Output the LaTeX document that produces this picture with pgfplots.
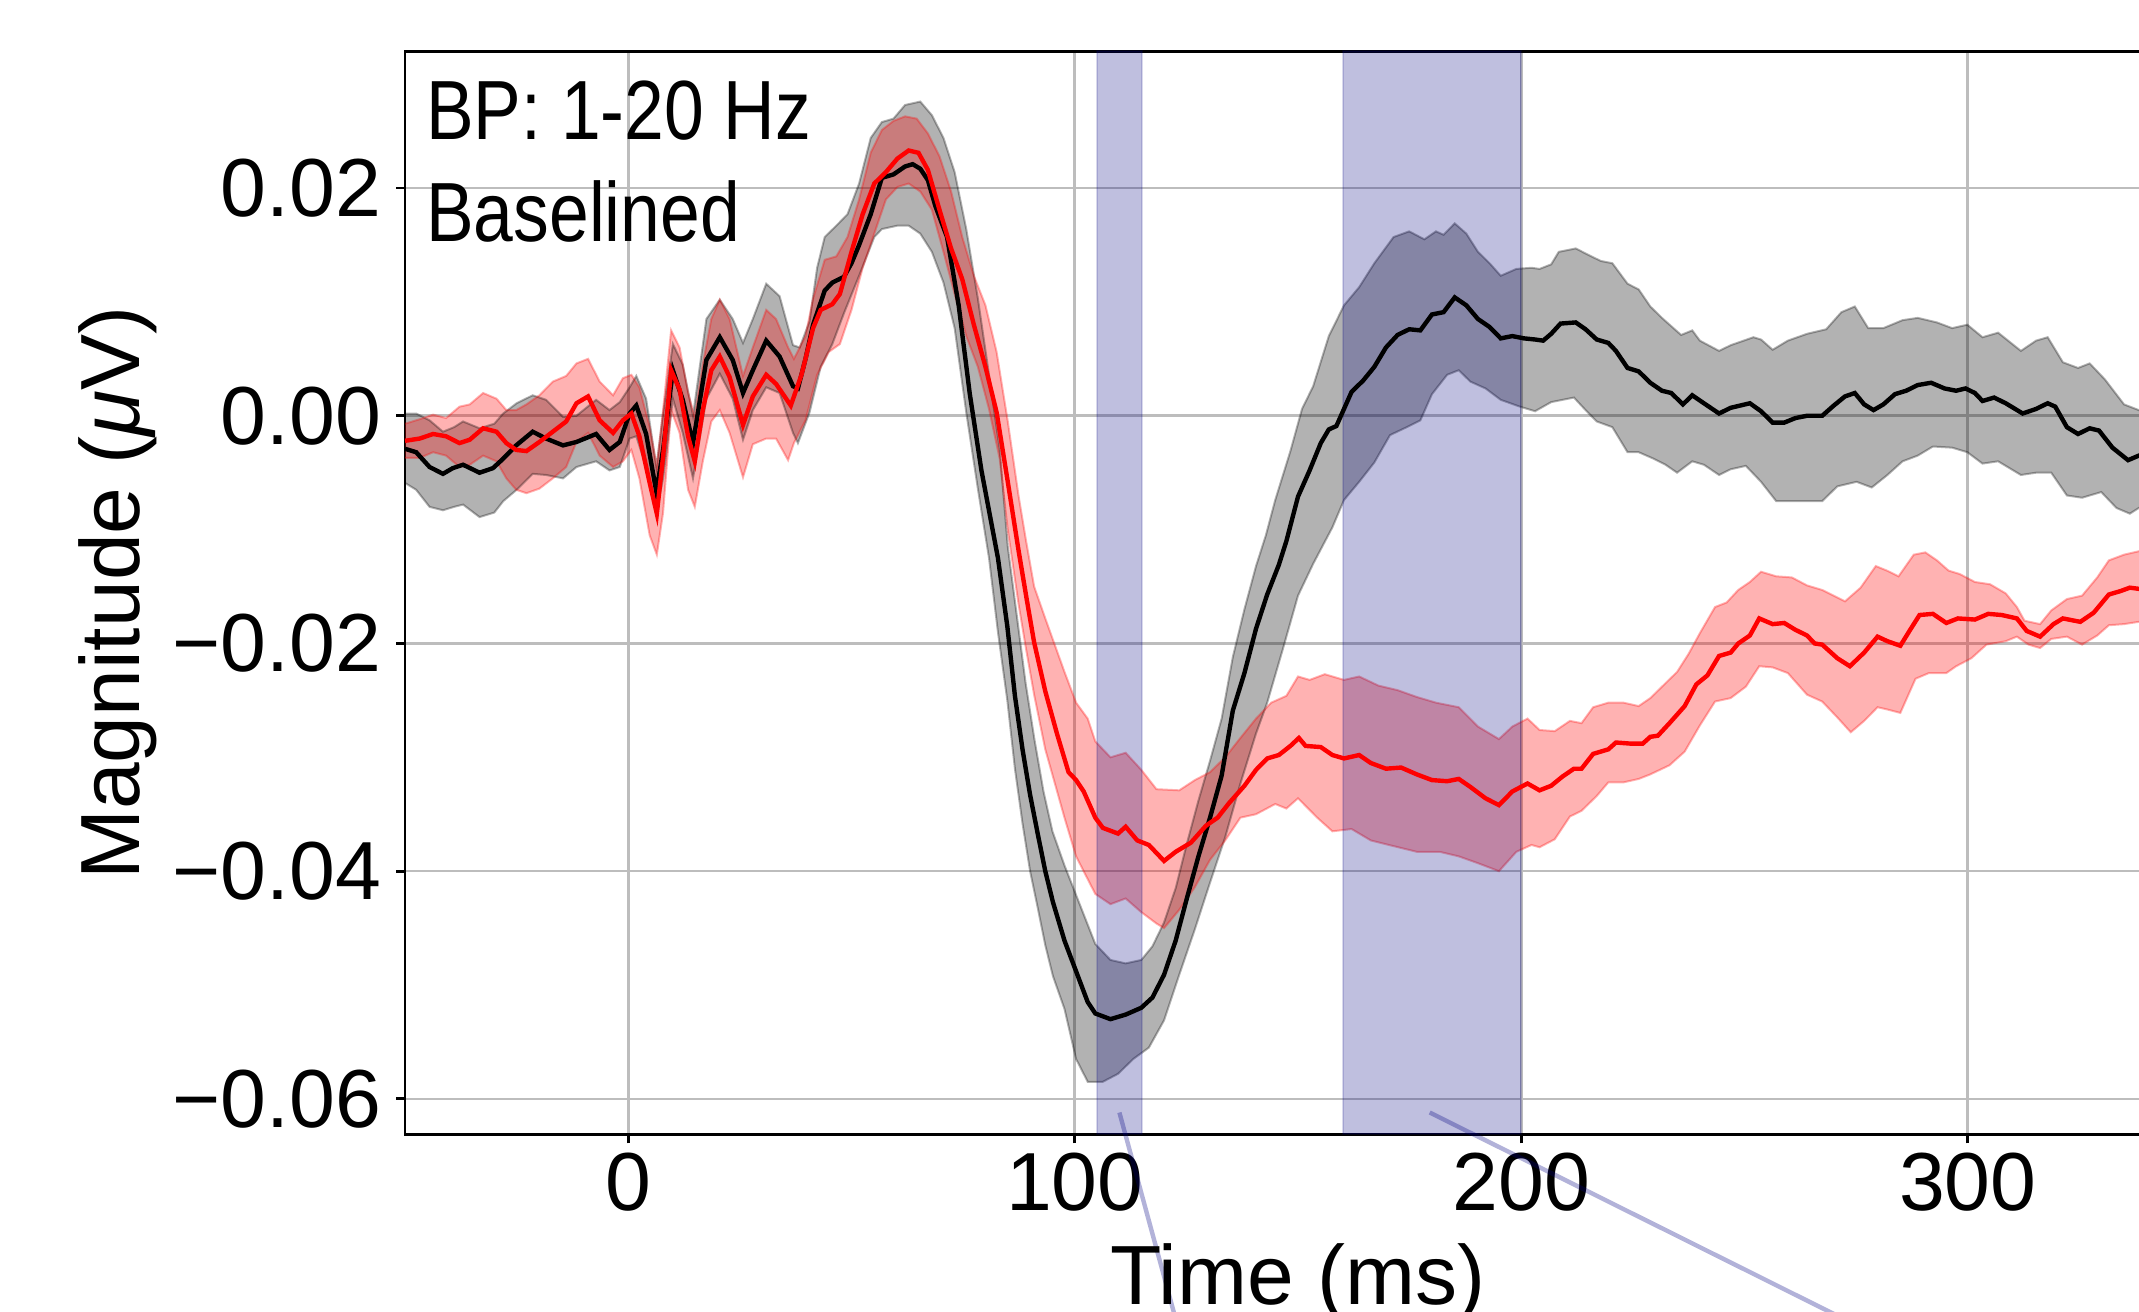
\documentclass[border=0pt]{standalone}
\usepackage{fontspec}
\setmainfont{Liberation Sans}
\newfontfamily\condfont[FakeStretch=0.85]{Liberation Sans}
\usepackage{pgfplots}
\pgfplotsset{compat=1.18}
\usepgfplotslibrary{fillbetween}
\definecolor{gridgray}{HTML}{BDBDBD}
\definecolor{spanblue}{RGB}{0,0,128}
\begin{document}
\begin{tikzpicture}
\begin{axis}[
 at={(0pt,0pt)}, anchor=south west,
 scale only axis, width=446.5pt, height=270.75pt,
 xmin=-50, xmax=350, ymin=-0.06313, ymax=0.0320,
 scaled y ticks=false, scaled x ticks=false,
 xtick={0,100,200,300}, xticklabels={0,100,200,300},
 ytick={-0.06,-0.04,-0.02,0,0.02},
 yticklabels={−0.06,−0.04,−0.02,0.00,0.02},
 tick pos=left, tick align=outside, major tick length=2.25pt,
 tick style={black, line width=0.7pt},
 axis line style={line width=0.7pt},
 grid=major, major grid style={gridgray, line width=0.65pt},
 tick label style={font=\fontsize{20.6}{24}\selectfont, inner sep=0pt},
 yticklabel shift=3.5pt, xticklabel shift=2.15pt,
 label style={font=\fontsize{21}{25}\selectfont, inner sep=0pt},
 xlabel={Time (ms)},
 ylabel={Magnitude ({\itshape μ}V)},
 xlabel style={at={(axis description cs:0.5,0)}, anchor=north, yshift=-27.1pt},
 ylabel style={at={(axis description cs:-0.1831,0.5)}, anchor=north},
 clip=false, no markers,
]
% ---------- black (condition 1) band ----------
\addplot[name path=gu, draw=black, draw opacity=0.3, line width=0.5pt] coordinates {
(-50,0.0002) (-47.5,0.0002) (-44.5,-0.0004) (-41.5,-0.0014) (-39,-0.0010) (-37,-0.0005) (-33.3,-0.0011) (-30,-0.0007) (-28,0.0002) (-25,0.0011) (-21.4,0.0018) (-18.4,0.0014) (-14.6,-0.0001) (-11.6,0.0000) (-7.2,0.0014) (-4.2,0.0005) (-1.9,0.0012) (0.3,0.0025) (1.8,0.0035) (4.0,0.0015) (6.3,-0.0045) (7.8,0.0002) (10,0.0063) (12.2,0.0045) (14.5,0.0000) (17.5,0.0085) (20.5,0.0102) (23.4,0.0085) (25.7,0.0064) (27.9,0.0085) (30.9,0.0116) (33.9,0.0105) (36.9,0.0062) (38.4,0.0060) (40.6,0.0083) (42.3,0.0130) (44.0,0.0157) (46.6,0.0167) (49.1,0.0177) (51.7,0.0204) (54.3,0.0244) (56.8,0.0258) (59.4,0.0261) (62.0,0.0273) (65.4,0.0276) (68.0,0.0264) (70.6,0.0244) (73.1,0.0214) (75.7,0.0164) (78.3,0.0103) (80.8,0.0036) (83.2,-0.0030) (85,-0.0115) (87,-0.0175) (89,-0.0235) (91,-0.0285) (93,-0.0330) (95,-0.0365) (97.7,-0.0395) (100.3,-0.0421) (104.6,-0.0464) (108.0,-0.0478) (111.4,-0.0481) (114.9,-0.0478) (117.4,-0.0466) (120.0,-0.0445) (122.6,-0.0415) (125.1,-0.0376) (127.7,-0.0338) (130.3,-0.0303) (132.9,-0.0266) (135.4,-0.0212) (138.0,-0.0170) (140.6,-0.0132) (142.8,-0.0105) (144.9,-0.0074) (148.3,-0.0031) (150.9,0.0006) (153.4,0.0026) (156.9,0.0070) (160.3,0.0097) (163.7,0.0113) (167.1,0.0134) (171.4,0.0157) (174.9,0.0162) (178.3,0.0155) (180.9,0.0162) (182.6,0.0159) (185.1,0.0169) (187.7,0.0160) (190.3,0.0144) (192.9,0.0134) (195.4,0.0123) (198.9,0.0129) (202.3,0.0130) (204.1,0.0129) (206.7,0.0133) (208.4,0.0144) (212.2,0.0147) (215.2,0.0141) (217.8,0.0136) (220.4,0.0134) (223.8,0.0116) (226.3,0.0111) (228.9,0.0096) (231.5,0.0086) (235.8,0.0071) (238.3,0.0075) (240.0,0.0066) (244.3,0.0057) (246.9,0.0062) (252.0,0.0069) (253.7,0.0067) (256.3,0.0058) (259.7,0.0066) (264.0,0.0072) (268.3,0.0076) (271.7,0.0091) (274.7,0.0096) (277.7,0.0077) (281.1,0.0077) (285.4,0.0084) (288.8,0.0086) (293.1,0.0082) (296.5,0.0077) (299.9,0.0080) (303.3,0.0069) (306.8,0.0073) (311.9,0.0057) (315.3,0.0066) (317.9,0.0069) (321.3,0.0047) (324.7,0.0042) (327.3,0.0046) (330.7,0.0032) (335.0,0.0010) (338.3,0.0005) (341,0.0000)};
\addplot[name path=gl, draw=black, draw opacity=0.3, line width=0.5pt] coordinates {
(-50,-0.0059) (-47.5,-0.0065) (-44.5,-0.0080) (-41.5,-0.0083) (-39,-0.0080) (-37,-0.0078) (-33.3,-0.0089) (-30,-0.0085) (-28,-0.0075) (-25,-0.0065) (-21.4,-0.0051) (-18.4,-0.0052) (-14.6,-0.0055) (-11.6,-0.0045) (-7.2,-0.0040) (-4.2,-0.0048) (-1.9,-0.0045) (0.3,-0.0020) (1.8,-0.0018) (4.0,-0.0045) (6.3,-0.0085) (7.8,-0.0055) (10,0.0015) (12.2,-0.0015) (14.5,-0.0055) (17.5,0.0015) (20.5,0.0037) (23.4,0.0015) (25.7,-0.0021) (27.9,0.0005) (30.9,0.0025) (33.9,0.0020) (36.9,-0.0015) (38.0,-0.0024) (40.6,0.0003) (43.1,0.0043) (45.7,0.0063) (48.3,0.0090) (51.7,0.0123) (55.1,0.0157) (56.8,0.0164) (60.3,0.0167) (62.8,0.0167) (65.4,0.0160) (68.0,0.0144) (70.6,0.0117) (73.1,0.0077) (75.7,0.0003) (78.3,-0.0064) (80.8,-0.0125) (82.8,-0.0190) (84.9,-0.0250) (86.6,-0.0310) (88.3,-0.0358) (90.0,-0.0400) (91.7,-0.0432) (93.4,-0.0465) (95.1,-0.0492) (97.7,-0.0521) (100.3,-0.0565) (102.9,-0.0585) (106.3,-0.0585) (109.7,-0.0578) (113.1,-0.0565) (116.6,-0.0555) (120.0,-0.0531) (123.4,-0.0491) (126.9,-0.0451) (130.3,-0.0410) (133.7,-0.0370) (137.1,-0.0323) (140.6,-0.0279) (143.1,-0.0252) (146.6,-0.0205) (150.0,-0.0158) (153.4,-0.0130) (157.7,-0.0098) (160.3,-0.0074) (163.7,-0.0058) (167.1,-0.0041) (170.6,-0.0017) (174.9,-0.0009) (177.4,-0.0004) (180.0,0.0019) (183.4,0.0036) (186.0,0.0040) (188.6,0.0030) (192.0,0.0024) (195.4,0.0014) (199.7,0.0008) (203.1,0.0004) (206.7,0.0012) (211.8,0.0016) (214.4,0.0005) (216.9,-0.0005) (220.4,-0.0010) (223.8,-0.0032) (226.3,-0.0032) (229.8,-0.0038) (232.3,-0.0043) (234.9,-0.0050) (238.3,-0.0040) (240.9,-0.0043) (244.3,-0.0052) (246.9,-0.0047) (250.3,-0.0044) (253.7,-0.0058) (257.1,-0.0075) (260.6,-0.0075) (264.0,-0.0075) (267.4,-0.0075) (270.8,-0.0062) (275.1,-0.0058) (278.5,-0.0063) (282.0,-0.0052) (285.4,-0.0040) (288.8,-0.0035) (292.2,-0.0027) (296.5,-0.0028) (299.9,-0.0032) (303.3,-0.0042) (306.8,-0.0040) (311.9,-0.0052) (315.3,-0.0050) (318.7,-0.0050) (322.2,-0.0070) (325.6,-0.0072) (329.9,-0.0067) (333.3,-0.0081) (336.3,-0.0086) (338.3,-0.0081) (341,-0.0085)};
\addplot[fill=black, fill opacity=0.3, draw=none] fill between[of=gu and gl];
% ---------- red (condition 2) band ----------
\addplot[name path=ru, draw=red, draw opacity=0.3, line width=0.5pt] coordinates {
(-50,-0.0007) (-46.7,-0.0003) (-43.7,0.0001) (-40.8,-0.0002) (-37.8,0.0008) (-35.5,0.0010) (-32.5,0.0020) (-29.5,0.0015) (-27.3,0.0005) (-25.1,0.0005) (-22.8,0.0010) (-19.9,0.0018) (-16.9,0.0030) (-13.9,0.0035) (-11.6,0.0046) (-9.0,0.0050) (-6.4,0.0030) (-3.4,0.0018) (-1.2,0.0033) (0.7,0.0036) (2.5,0.0025) (4.8,-0.0010) (6.4,-0.0045) (7.8,0.0005) (9.6,0.0075) (11.5,0.0060) (13.4,0.0020) (14.9,-0.0001) (16.7,0.0045) (18.6,0.0085) (20.5,0.0102) (22.7,0.0085) (25.7,0.0035) (27.9,0.0060) (30.9,0.0093) (33.1,0.0085) (35.8,0.0060) (37.1,0.0050) (39.7,0.0070) (41.4,0.0103) (44.0,0.0137) (46.6,0.0140) (49.1,0.0157) (51.7,0.0190) (54.3,0.0231) (56.8,0.0251) (59.4,0.0259) (62.0,0.0263) (64.6,0.0261) (67.1,0.0248) (69.7,0.0228) (72.3,0.0197) (74.8,0.0157) (77.4,0.0123) (80.0,0.0097) (82.5,0.0056) (85,-0.0005) (87.4,-0.0070) (89.1,-0.0110) (90.9,-0.0150) (93.4,-0.0178) (97.7,-0.0225) (100.3,-0.0252) (102.9,-0.0266) (104.6,-0.0286) (108.0,-0.0300) (111.4,-0.0296) (114.9,-0.0311) (118.3,-0.0328) (123.4,-0.0329) (126.9,-0.0320) (130.3,-0.0313) (133.7,-0.0300) (137.1,-0.0283) (140.6,-0.0266) (144.0,-0.0252) (147.4,-0.0246) (150.0,-0.0229) (152.6,-0.0232) (156.0,-0.0227) (160.3,-0.0232) (163.7,-0.0229) (168.0,-0.0237) (172.3,-0.0241) (176.6,-0.0247) (180.9,-0.0252) (186.0,-0.0256) (190.3,-0.0273) (195.0,-0.0284) (198.0,-0.0273) (201.4,-0.0266) (204.1,-0.0276) (207.5,-0.0277) (210.9,-0.0268) (213.5,-0.0270) (216.1,-0.0256) (219.5,-0.0252) (222.9,-0.0252) (226.3,-0.0255) (228.9,-0.0248) (231.5,-0.0238) (234.9,-0.0225) (237.5,-0.0209) (240.0,-0.0191) (243.4,-0.0168) (246.0,-0.0164) (248.6,-0.0153) (251.2,-0.0146) (253.7,-0.0137) (257.1,-0.0141) (260.6,-0.0142) (264.0,-0.0149) (267.4,-0.0153) (272.5,-0.0163) (276.0,-0.0151) (279.4,-0.0132) (281.9,-0.0136) (284.5,-0.0141) (287.9,-0.0122) (290.5,-0.0120) (293.1,-0.0127) (295.7,-0.0136) (298.2,-0.0139) (301.6,-0.0146) (305.0,-0.0148) (308.5,-0.0156) (311.0,-0.0168) (312.7,-0.0180) (316.2,-0.0183) (318.7,-0.0171) (322.2,-0.0161) (325.6,-0.0158) (329.0,-0.0142) (331.6,-0.0127) (335.0,-0.0122) (338.3,-0.0119) (341,-0.0117)};
\addplot[name path=rl, draw=red, draw opacity=0.3, line width=0.5pt] coordinates {
(-50,-0.0037) (-46.7,-0.0037) (-43.7,-0.0032) (-40.8,-0.0035) (-37.8,-0.0045) (-35.5,-0.0043) (-32.5,-0.0035) (-29.5,-0.0040) (-27.3,-0.0055) (-25.1,-0.0065) (-22.8,-0.0068) (-19.9,-0.0064) (-16.9,-0.0055) (-13.9,-0.0045) (-11.6,-0.0023) (-9.0,-0.0015) (-6.4,-0.0035) (-3.4,-0.0045) (-1.2,-0.0040) (0.7,-0.0030) (2.5,-0.0055) (4.8,-0.0105) (6.4,-0.0122) (7.8,-0.0085) (9.6,0.0005) (11.5,-0.0015) (13.4,-0.0065) (14.9,-0.0080) (16.7,-0.0040) (18.6,-0.0005) (20.5,0.0005) (22.7,-0.0015) (25.7,-0.0054) (27.9,-0.0025) (30.9,-0.0020) (33.1,-0.0020) (35.8,-0.0039) (37.1,-0.0024) (39.7,-0.0004) (42.3,0.0036) (44.9,0.0056) (47.4,0.0063) (50.0,0.0093) (52.5,0.0130) (55.1,0.0160) (57.7,0.0190) (60.3,0.0201) (62.8,0.0204) (65.4,0.0197) (68.0,0.0181) (70.6,0.0144) (73.1,0.0107) (75.7,0.0070) (78.3,0.0043) (80.8,0.0006) (83.2,-0.0038) (85,-0.0100) (87.4,-0.0165) (89.1,-0.0205) (90.9,-0.0245) (93.4,-0.0293) (97.7,-0.0353) (100.3,-0.0387) (102.9,-0.0407) (104.6,-0.0420) (108.0,-0.0429) (111.4,-0.0424) (114.9,-0.0436) (118.3,-0.0446) (120.0,-0.0450) (123.4,-0.0434) (126.9,-0.0414) (130.3,-0.0390) (133.7,-0.0373) (137.1,-0.0353) (140.6,-0.0350) (144.9,-0.0341) (147.4,-0.0345) (150.0,-0.0336) (154.3,-0.0353) (157.7,-0.0365) (162.0,-0.0363) (166.3,-0.0373) (171.4,-0.0378) (176.6,-0.0383) (181.7,-0.0383) (186.0,-0.0387) (190.3,-0.0393) (195.0,-0.0400) (198.9,-0.0383) (202.3,-0.0377) (204.1,-0.0379) (207.5,-0.0372) (210.9,-0.0352) (213.5,-0.0347) (216.9,-0.0334) (219.5,-0.0322) (222.9,-0.0322) (226.3,-0.0319) (228.9,-0.0315) (233.2,-0.0307) (236.6,-0.0295) (240.0,-0.0272) (243.4,-0.0251) (246.9,-0.0248) (250.3,-0.0238) (253.3,-0.0220) (256.3,-0.0221) (259.7,-0.0226) (264.0,-0.0245) (267.4,-0.0251) (270.8,-0.0265) (273.8,-0.0278) (276.8,-0.0268) (279.8,-0.0256) (282.0,-0.0258) (284.9,-0.0261) (288.3,-0.0231) (291.3,-0.0226) (295.2,-0.0226) (297.4,-0.0220) (300.8,-0.0213) (304.2,-0.0201) (308.5,-0.0198) (311.0,-0.0194) (313.6,-0.0201) (316.2,-0.0204) (318.7,-0.0196) (322.2,-0.0194) (325.6,-0.0201) (329.0,-0.0193) (331.6,-0.0184) (335.0,-0.0183) (338.3,-0.0181) (341,-0.0180)};
\addplot[fill=red, fill opacity=0.3, draw=none] fill between[of=ru and rl];
% ---------- highlighted windows ----------
\addplot[draw=spanblue, draw opacity=0.15, fill=spanblue, fill opacity=0.25, line width=0.5pt] coordinates {(105,-0.06313) (115,-0.06313) (115,0.0320) (105,0.0320)} -- cycle;
\addplot[draw=spanblue, draw opacity=0.15, fill=spanblue, fill opacity=0.25, line width=0.5pt] coordinates {(160,-0.06313) (200,-0.06313) (200,0.0320) (160,0.0320)} -- cycle;
% ---------- connector lines ----------
\addplot[spanblue, opacity=0.3, line width=1.1pt] coordinates {(110,-0.0612) (127.5,-0.0864)};
\addplot[spanblue, opacity=0.3, line width=1.1pt] coordinates {(179.5,-0.0612) (308.4,-0.0864)};
% ---------- black mean ----------
\addplot[black, line width=1.1pt] coordinates {
(-50,-0.0029) (-47.5,-0.0032) (-44.5,-0.0045) (-41.5,-0.0051) (-39.3,-0.0046) (-37,-0.0043) (-33.3,-0.0050) (-30.3,-0.0046) (-28.1,-0.0038) (-25.1,-0.0026) (-21.4,-0.0014) (-18.4,-0.0020) (-14.6,-0.0026) (-11.6,-0.0023) (-7.2,-0.0016) (-4.2,-0.0030) (-1.9,-0.0023) (0.3,0.0002) (1.8,0.0009) (4.0,-0.0016) (6.3,-0.0067) (7.8,-0.0030) (10,0.0040) (12.2,0.0014) (14.5,-0.0024) (17.5,0.0049) (20.5,0.0069) (23.4,0.0049) (25.7,0.0020) (27.9,0.0040) (30.9,0.0066) (33.9,0.0052) (36.9,0.0026) (38.0,0.0024) (39.7,0.0050) (41.4,0.0080) (44.0,0.0110) (45.7,0.0117) (48.3,0.0122) (50.0,0.0134) (51.7,0.0150) (54.3,0.0177) (56.8,0.0209) (59.4,0.0212) (62.0,0.0219) (63.7,0.0221) (65.4,0.0217) (67.1,0.0207) (68.8,0.0184) (71.4,0.0157) (74.0,0.0097) (76.5,0.0019) (79.1,-0.0048) (82.8,-0.0125) (84.9,-0.0185) (86.6,-0.0246) (88.3,-0.0293) (90.0,-0.0333) (91.7,-0.0367) (93.4,-0.0400) (95.1,-0.0427) (97.7,-0.0461) (100.3,-0.0488) (102.9,-0.0515) (104.6,-0.0525) (108.0,-0.0530) (111.4,-0.0526) (114.9,-0.0520) (117.4,-0.0511) (120.0,-0.0491) (122.6,-0.0461) (125.1,-0.0424) (127.7,-0.0387) (130.3,-0.0353) (132.9,-0.0316) (135.4,-0.0259) (138.0,-0.0226) (140.6,-0.0187) (143.1,-0.0157) (145.7,-0.0131) (147.4,-0.0110) (150.0,-0.0071) (152.6,-0.0048) (155.1,-0.0024) (156.9,-0.0012) (158.6,-0.0009) (160.3,0.0006) (162.0,0.0021) (164.6,0.0031) (167.1,0.0043) (169.7,0.0060) (172.3,0.0071) (174.9,0.0076) (177.4,0.0075) (180.0,0.0089) (182.6,0.0091) (185.1,0.0104) (187.7,0.0097) (190.3,0.0085) (192.9,0.0078) (195.4,0.0068) (198.0,0.0070) (200.6,0.0068) (203.1,0.0067) (204.9,0.0066) (206.7,0.0072) (208.8,0.0081) (212.2,0.0082) (214.4,0.0076) (216.9,0.0067) (219.5,0.0064) (221.2,0.0057) (223.8,0.0042) (226.3,0.0039) (228.9,0.0029) (231.5,0.0022) (233.6,0.0020) (236.2,0.0010) (238.3,0.0018) (240.9,0.0011) (244.3,0.0002) (246.9,0.0007) (251.2,0.0011) (253.7,0.0004) (256.3,-0.0006) (258.9,-0.0006) (261.4,-0.0002) (264.0,0.0000) (267.4,0.0000) (270.0,0.0009) (272.5,0.0017) (274.7,0.0020) (276.8,0.0010) (278.9,0.0005) (281.1,0.0010) (283.7,0.0019) (286.2,0.0022) (288.8,0.0027) (291.8,0.0029) (294.8,0.0024) (297.4,0.0022) (299.5,0.0024) (301.6,0.0020) (303.3,0.0013) (305.9,0.0016) (308.5,0.0011) (312.3,0.0002) (315.3,0.0006) (317.9,0.0011) (319.6,0.0008) (322.2,-0.0010) (324.7,-0.0016) (327.3,-0.0011) (329.4,-0.0013) (332.4,-0.0028) (335.9,-0.0039) (338.3,-0.0035) (341,-0.0038)};
% ---------- red mean ----------
\addplot[red, line width=1.1pt] coordinates {
(-50,-0.0022) (-46.7,-0.0020) (-43.7,-0.0016) (-40.8,-0.0018) (-37.8,-0.0024) (-35.5,-0.0021) (-32.5,-0.0011) (-29.5,-0.0014) (-27.3,-0.0024) (-25.1,-0.0030) (-22.8,-0.0031) (-19.9,-0.0023) (-16.9,-0.0014) (-13.9,-0.0005) (-11.6,0.0011) (-9.0,0.0017) (-6.4,-0.0004) (-3.4,-0.0015) (-1.2,-0.0004) (0.7,0.0002) (2.5,-0.0018) (4.8,-0.0059) (6.4,-0.0086) (7.8,-0.0036) (9.6,0.0040) (11.5,0.0023) (13.4,-0.0018) (14.9,-0.0040) (16.7,0.0005) (18.6,0.0040) (20.5,0.0052) (22.7,0.0034) (25.7,-0.0008) (27.9,0.0017) (30.9,0.0036) (33.1,0.0028) (36.4,0.0009) (38.8,0.0036) (41.4,0.0077) (43.1,0.0093) (45.7,0.0098) (47.4,0.0107) (50.0,0.0144) (52.5,0.0177) (55.1,0.0204) (57.7,0.0214) (60.3,0.0226) (62.8,0.0233) (65.0,0.0231) (67.1,0.0216) (69.7,0.0181) (72.3,0.0147) (74.8,0.0120) (77.4,0.0080) (80.0,0.0043) (82.5,0.0003) (85,-0.0058) (87.4,-0.0118) (89.1,-0.0158) (90.9,-0.0199) (93.4,-0.0242) (96.0,-0.0279) (98.6,-0.0313) (100.3,-0.0320) (102.0,-0.0330) (104.6,-0.0353) (106.3,-0.0362) (109.7,-0.0367) (111.4,-0.0361) (114.0,-0.0373) (116.6,-0.0377) (120.0,-0.0391) (122.6,-0.0383) (126.0,-0.0375) (129.4,-0.0360) (132.0,-0.0353) (134.6,-0.0340) (138.0,-0.0325) (140.6,-0.0311) (143.1,-0.0301) (145.7,-0.0298) (148.3,-0.0290) (150.2,-0.0283) (151.7,-0.0290) (155.1,-0.0291) (157.7,-0.0298) (160.3,-0.0301) (163.7,-0.0298) (166.3,-0.0305) (169.7,-0.0310) (173.1,-0.0309) (176.6,-0.0315) (180.0,-0.0320) (183.4,-0.0321) (186.0,-0.0319) (188.6,-0.0326) (192.0,-0.0336) (195.0,-0.0342) (198.0,-0.0330) (201.4,-0.0323) (204.1,-0.0329) (206.7,-0.0325) (209.2,-0.0317) (211.8,-0.0310) (213.5,-0.0310) (216.1,-0.0297) (219.5,-0.0293) (221.2,-0.0287) (224.6,-0.0288) (227.2,-0.0288) (228.9,-0.0282) (230.6,-0.0281) (233.2,-0.0270) (236.6,-0.0255) (239.2,-0.0236) (241.7,-0.0228) (244.3,-0.0211) (246.9,-0.0208) (248.6,-0.0200) (251.2,-0.0193) (253.3,-0.0178) (256.3,-0.0183) (258.9,-0.0182) (261.4,-0.0188) (264.0,-0.0193) (265.7,-0.0200) (267.4,-0.0201) (270.8,-0.0213) (273.6,-0.0220) (276.8,-0.0208) (279.8,-0.0194) (282.0,-0.0198) (284.9,-0.0202) (287.1,-0.0188) (289.2,-0.0175) (292.2,-0.0174) (295.2,-0.0182) (297.8,-0.0178) (301.6,-0.0179) (304.6,-0.0174) (307.6,-0.0175) (311.0,-0.0178) (313.2,-0.0189) (316.2,-0.0194) (319.2,-0.0183) (321.3,-0.0178) (325.2,-0.0181) (328.2,-0.0173) (331.6,-0.0157) (334.2,-0.0154) (336.3,-0.0151) (338.3,-0.0152) (341,-0.0150)};
% ---------- annotation ----------
\node[anchor=base west, inner sep=0pt, font=\condfont\fontsize{21}{25}\selectfont] at (rel axis cs:0.0115,0.9185) {BP: 1-20 Hz};
\node[anchor=base west, inner sep=0pt, font=\condfont\fontsize{21}{25}\selectfont] at (rel axis cs:0.0115,0.825) {Baselined};
\end{axis}
\pgfresetboundingbox
\path[use as bounding box] (-101.25pt,-44.375pt) rectangle (433.5pt,283.625pt);
\end{tikzpicture}
\end{document}
